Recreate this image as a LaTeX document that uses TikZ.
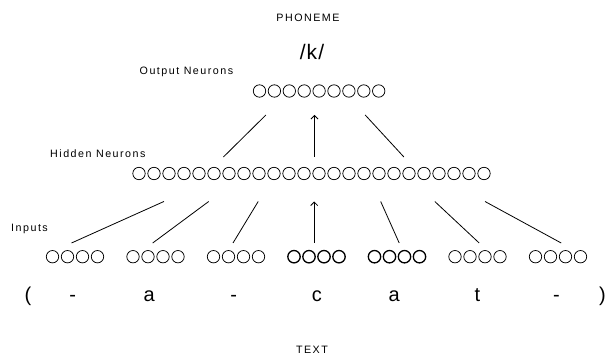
\documentclass[tikz,border=0pt]{standalone}
\usepackage{fontspec}
\setmainfont{Liberation Sans}
\newfontfamily\lblfont[LetterSpace=14]{Liberation Sans}
\newfontfamily\bigfont[LetterSpace=5]{Liberation Sans}
\usetikzlibrary{arrows.meta}
\begin{document}
\begin{tikzpicture}[x=1pt,y=-1pt,
  lbl/.style={inner sep=0pt, anchor=base, font=\lblfont\fontsize{10.7}{12}\selectfont},
  biglbl/.style={inner sep=0pt, anchor=base, font=\bigfont\fontsize{21}{24}\selectfont},
  letter/.style={inner sep=0pt, anchor=base, font=\fontsize{20}{24}\selectfont},
  neuron/.style={draw, circle, inner sep=0pt, minimum size=12.4pt, line width=0.75pt},
  boldneuron/.style={neuron, line width=1.3pt},
  link/.style={draw, line width=0.8pt},
  uparrow/.style={link, -{Straight Barb[length=3.5pt,width=7pt]}}]
\useasboundingbox (0,0) rectangle (606,358);
% top labels
\node[lbl] (phon) at (308,22) {PHONEME};
\node[biglbl] (k) at (312,60) {/k/};
\node[lbl, anchor=base west] (outlbl) at (139.5,75) {Output Neurons};
% output neurons
\foreach \i in {0,...,8} \node[neuron] (o\i) at ({259.5+14.9*\i},91) {};
% hidden
\node[lbl, anchor=base west] (hidlbl) at (50,158) {Hidden Neurons};
\foreach \i in {0,...,23} \node[neuron] (h\i) at ({139+15*\i},173.5) {};
% inputs
\node[lbl, anchor=base west] (inlbl) at (11,232) {Inputs};
\foreach \g in {1,...,7}{
  \foreach \j in {0,...,3}{
    \ifnum\g=4 \def\sty{boldneuron}\else\ifnum\g=5 \def\sty{boldneuron}\else\def\sty{neuron}\fi\fi
    \node[\sty] (i\g-\j) at ({75+80.5*(\g-1)+15*(\j-1.5)},256.7) {};
  }
}
% letters
\node[letter] (lp) at (28,302) {(};
\node[letter] (l1) at (72.7,302) {-};
\node[letter] (l2) at (149.2,302) {a};
\node[letter] (l3) at (233.8,302) {-};
\node[letter] (l4) at (316.9,302) {c};
\node[letter] (l5) at (394.2,302) {a};
\node[letter] (l6) at (477.3,302) {t};
\node[letter] (l7) at (556.5,302) {-};
\node[letter] (rp) at (602.5,302) {)};
\node[lbl] (txt) at (312,354) {TEXT};
% upper connectors
\coordinate (ua1) at (265.9,115); \coordinate (ub1) at (223.4,157);
\coordinate (ua2) at (314.5,115); \coordinate (ub2) at (314.5,157);
\coordinate (ua3) at (365.2,115); \coordinate (ub3) at (403.9,157);
\path[link] (ua1) -- (ub1);
\path[uparrow] (ub2) -- (ua2);
\path[link] (ua3) -- (ub3);
% lower connectors
\coordinate (la1) at (163.9,201.5); \coordinate (lb1) at (71.5,243);
\coordinate (la2) at (208.7,201.5); \coordinate (lb2) at (152.7,243);
\coordinate (la3) at (258.2,201.5); \coordinate (lb3) at (233.0,243);
\coordinate (la4) at (314.2,201.5); \coordinate (lb4) at (314.2,243);
\coordinate (la5) at (380.7,201.5); \coordinate (lb5) at (399.2,243);
\coordinate (la6) at (434.8,201.5); \coordinate (lb6) at (479.2,243);
\coordinate (la7) at (485.0,201.5); \coordinate (lb7) at (561.2,243);
\path[link] (la1) -- (lb1);
\path[link] (la2) -- (lb2);
\path[link] (la3) -- (lb3);
\path[uparrow] (lb4) -- (la4);
\path[link] (la5) -- (lb5);
\path[link] (la6) -- (lb6);
\path[link] (la7) -- (lb7);
\end{tikzpicture}
\end{document}
